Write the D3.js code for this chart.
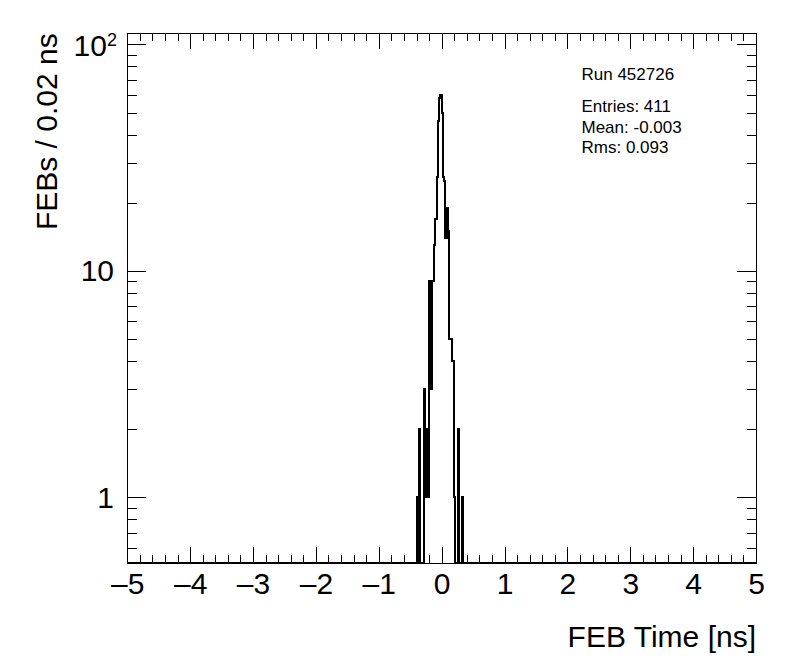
<!DOCTYPE html>
<html>
<head>
<meta charset="utf-8">
<script src="https://cdn.jsdelivr.net/npm/d3@7"></script>
<style>
  html, body { margin: 0; padding: 0; background: #fff; }
  svg { display: block; font-family: "Liberation Sans", Arial, Helvetica, sans-serif; }
</style>
</head>
<body>
<div id="chart"></div>
<script>
// FEB time histogram (0.02 ns bins), log y axis, ROOT look

const binWidth = 0.02;
const binLowEdges = [
  -0.40, -0.38, -0.36, -0.34, -0.32, -0.30, -0.28, -0.26, -0.24, -0.22,
  -0.20, -0.18, -0.16, -0.14, -0.12, -0.10, -0.08, -0.06, -0.04, -0.02,
   0.00,  0.02,  0.04,  0.06,  0.08,  0.10,  0.12,  0.14,  0.16,  0.18,
   0.20,  0.22,  0.24,  0.26,  0.28,  0.30,  0.32,  0.34,  0.36,  0.38
];
const binCounts = [
   1,  0,  2,  0,  0,  0,  3,  1,  2,  1,
   9,  3,  9,  9, 13, 17, 26, 46, 58, 60,
  50, 26, 25, 14, 19, 15,  5,  5,  4,  4,
   1,  0,  0,  2,  0,  0,  1,  0,  0,  0
];

const xTickValues = [-5, -4, -3, -2, -1, 0, 1, 2, 3, 4, 5];
const xTickLabels = ["\u20135", "\u20134", "\u20133", "\u20132", "\u20131", "0", "1", "2", "3", "4", "5"];
const yTickValues = [1, 10, 100];
const yTickLabels = ["1", "10", "10^2"];

const statsRun = "Run 452726";
const statsLines = ["Entries: 411", "Mean: -0.003", "Rms: 0.093"];
const xTitle = "FEB Time [ns]";
const yTitle = "FEBs / 0.02 ns";

const W = 796, H = 672;
const frame = { left: 127.3, right: 756, top: 33.3, bottom: 563.3 };

const svg = d3.select("#chart").append("svg")
  .attr("width", W)
  .attr("height", H);

svg.append("rect").attr("width", W).attr("height", H).attr("fill", "#fff");

const x = d3.scaleLinear().domain([-5, 5]).range([frame.left, frame.right]);
const y = d3.scaleLog().domain([0.512, 112]).range([frame.bottom, frame.top]);

const xMajorLen = 15.9, xMinorLen = 8;
const yMajorLen = 18.9, yMinorLen = 9.4;

const xMinor = x.ticks(50).filter(d => !xTickValues.includes(d));
const yMinor = y.ticks().filter(d => !yTickValues.includes(d));

function styleAxis(g) {
  g.select(".domain").remove();
  g.attr("font-family", null).attr("font-size", null);
  g.selectAll("line").attr("stroke", "#000").attr("shape-rendering", "crispEdges");
}

// bottom axis
svg.append("g")
  .attr("transform", `translate(0,${frame.bottom})`)
  .call(d3.axisBottom(x).tickValues(xMinor).tickSize(-xMinorLen).tickFormat(""))
  .call(styleAxis);
svg.append("g")
  .attr("transform", `translate(0,${frame.bottom})`)
  .call(d3.axisBottom(x).tickValues(xTickValues).tickSize(-xMajorLen).tickPadding(9.4)
    .tickFormat(d => xTickLabels[xTickValues.indexOf(d)]))
  .call(styleAxis)
  .call(g => g.selectAll("text").attr("font-size", 30).attr("fill", "#000"));

// top axis (mirror ticks)
svg.append("g")
  .attr("transform", `translate(0,${frame.top})`)
  .call(d3.axisTop(x).tickValues(xMinor).tickSize(-xMinorLen).tickFormat(""))
  .call(styleAxis);
svg.append("g")
  .attr("transform", `translate(0,${frame.top})`)
  .call(d3.axisTop(x).tickValues(xTickValues).tickSize(-xMajorLen).tickFormat(""))
  .call(styleAxis);

// left axis
svg.append("g")
  .attr("transform", `translate(${frame.left},0)`)
  .call(d3.axisLeft(y).tickValues(yMinor).tickSize(-yMinorLen).tickFormat(""))
  .call(styleAxis);
const yAxisG = svg.append("g")
  .attr("transform", `translate(${frame.left},0)`)
  .call(d3.axisLeft(y).tickValues(yTickValues).tickSize(-yMajorLen).tickPadding(13.3)
    .tickFormat(d => yTickLabels[yTickValues.indexOf(d)]))
  .call(styleAxis);
yAxisG.selectAll("text")
  .attr("font-size", 30)
  .attr("fill", "#000")
  .each(function(d) {
    const label = yTickLabels[yTickValues.indexOf(d)];
    if (label.includes("^")) {
      const [base, exp] = label.split("^");
      const t = d3.select(this).text(null).attr("x", -10.3).attr("dy", "0.36em");
      t.append("tspan").text(base);
      t.append("tspan").attr("font-size", 18).attr("dy", -10).text(exp);
    }
  });

// right axis
svg.append("g")
  .attr("transform", `translate(${frame.right},0)`)
  .call(d3.axisRight(y).tickValues(yMinor).tickSize(-yMinorLen).tickFormat(""))
  .call(styleAxis);
svg.append("g")
  .attr("transform", `translate(${frame.right},0)`)
  .call(d3.axisRight(y).tickValues(yTickValues).tickSize(-yMajorLen).tickFormat(""))
  .call(styleAxis);

// histogram outline
const pts = [[-5, 0]];
binLowEdges.forEach((e, i) => pts.push([e, binCounts[i]]));
pts.push([binLowEdges[binLowEdges.length - 1] + binWidth, 0]);
pts.push([5, 0]);

const histLine = d3.line()
  .x(d => x(d[0]))
  .y(d => d[1] > 0 ? y(d[1]) : frame.bottom)
  .curve(d3.curveStepAfter);

svg.append("path")
  .datum(pts)
  .attr("d", histLine)
  .attr("fill", "none")
  .attr("stroke", "#000")
  .attr("stroke-width", 2)
  .attr("shape-rendering", "crispEdges");

// frame
svg.append("rect")
  .attr("x", frame.left)
  .attr("y", frame.top)
  .attr("width", frame.right - frame.left)
  .attr("height", frame.bottom - frame.top)
  .attr("fill", "none")
  .attr("stroke", "#000")
  .attr("stroke-width", 1)
  .attr("shape-rendering", "crispEdges");

// axis titles
svg.append("text")
  .attr("x", frame.right)
  .attr("y", 647)
  .attr("text-anchor", "end")
  .attr("font-size", 30)
  .text(xTitle);

svg.append("text")
  .attr("transform", `translate(56.5,${frame.top}) rotate(-90)`)
  .attr("text-anchor", "end")
  .attr("font-size", 30)
  .text(yTitle);

// run / stats text
svg.append("text")
  .attr("x", 581.5)
  .attr("y", 80)
  .attr("font-size", 17)
  .text(statsRun);

svg.append("g")
  .selectAll("text")
  .data(statsLines)
  .join("text")
  .attr("x", 581.5)
  .attr("y", (d, i) => 112 + i * 20.5)
  .attr("font-size", 17)
  .text(d => d);
</script>
</body>
</html>
